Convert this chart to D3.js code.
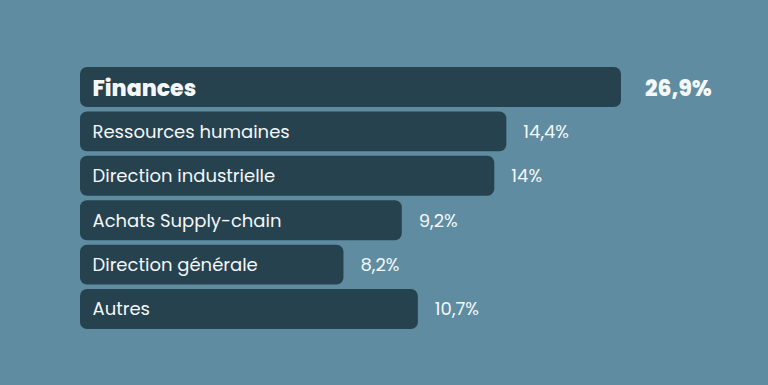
<!DOCTYPE html>
<html>
<head>
<meta charset="utf-8">
<script src="https://cdn.jsdelivr.net/npm/d3@7"></script>
<style>
  html, body { margin: 0; padding: 0; background: #5f8ca1; }
  svg { display: block; }
</style>
</head>
<body>
<svg id="chart"></svg>
<script>
// Categories, top to bottom
const categories = [
  'Finances',
  'Ressources humaines',
  'Direction industrielle',
  'Achats Supply-chain',
  'Direction générale',
  'Autres',
];
// Printed shares
const shareLabels = ['26,9%', '14,4%', '14%', '9,2%', '8,2%', '10,7%'];
// Bar lengths as drawn, in the same units as the top bar (26.9)
const barValues = [26.9, 21.2, 20.6, 16.0, 13.1, 16.8];

const width = 768;
const height = 385;
const margin = { top: 67, right: 147, bottom: 56, left: 80 };
const fontFamily = "'Poppins', 'Open Sans', 'Noto Sans', sans-serif";

const svg = d3.select('#chart')
  .attr('width', width)
  .attr('height', height);

svg.append('rect')
  .attr('width', width)
  .attr('height', height)
  .attr('fill', '#5f8ca1');

// Scales
const x = d3.scaleLinear()
  .domain([0, d3.max(barValues)])
  .range([margin.left, width - margin.right]);

const y = d3.scaleBand()
  .domain(categories)
  .range([margin.top, height - margin.bottom])
  .paddingInner(0.1);

const rows = categories.map((c, i) => ({
  name: c, label: shareLabels[i], value: barValues[i], top: i === 0,
}));

const g = svg.append('g');

// Bars
g.selectAll('rect.bar')
  .data(rows)
  .join('rect')
  .attr('class', 'bar')
  .attr('x', x(0))
  .attr('y', (d) => y(d.name))
  .attr('width', (d) => x(d.value) - x(0))
  .attr('height', y.bandwidth())
  .attr('rx', 7)
  .attr('fill', '#26424f');

// Category names inside bars
g.selectAll('text.name')
  .data(rows)
  .join('text')
  .attr('class', 'name')
  .attr('x', x(0) + 12.5)
  .attr('y', (d) => y(d.name) + y.bandwidth() / 2 + (d.top ? 1.5 : 0))
  .attr('dy', '0.35em')
  .attr('fill', '#f4f7f8')
  .style('font-family', fontFamily)
  .style('font-size', (d) => (d.top ? '22px' : '18px'))
  .style('font-weight', (d) => (d.top ? 800 : 400))
  .text((d) => d.name);

// Share labels after bars
g.selectAll('text.share')
  .data(rows)
  .join('text')
  .attr('class', 'share')
  .attr('x', (d) => x(d.value) + (d.top ? 24 : 17))
  .attr('y', (d) => y(d.name) + y.bandwidth() / 2 + (d.top ? 1.5 : 0))
  .attr('dy', '0.35em')
  .attr('fill', '#f4f7f8')
  .style('font-family', fontFamily)
  .style('font-size', (d) => (d.top ? '22px' : '18px'))
  .style('font-weight', (d) => (d.top ? 800 : 400))
  .text((d) => d.label);
</script>
</body>
</html>
